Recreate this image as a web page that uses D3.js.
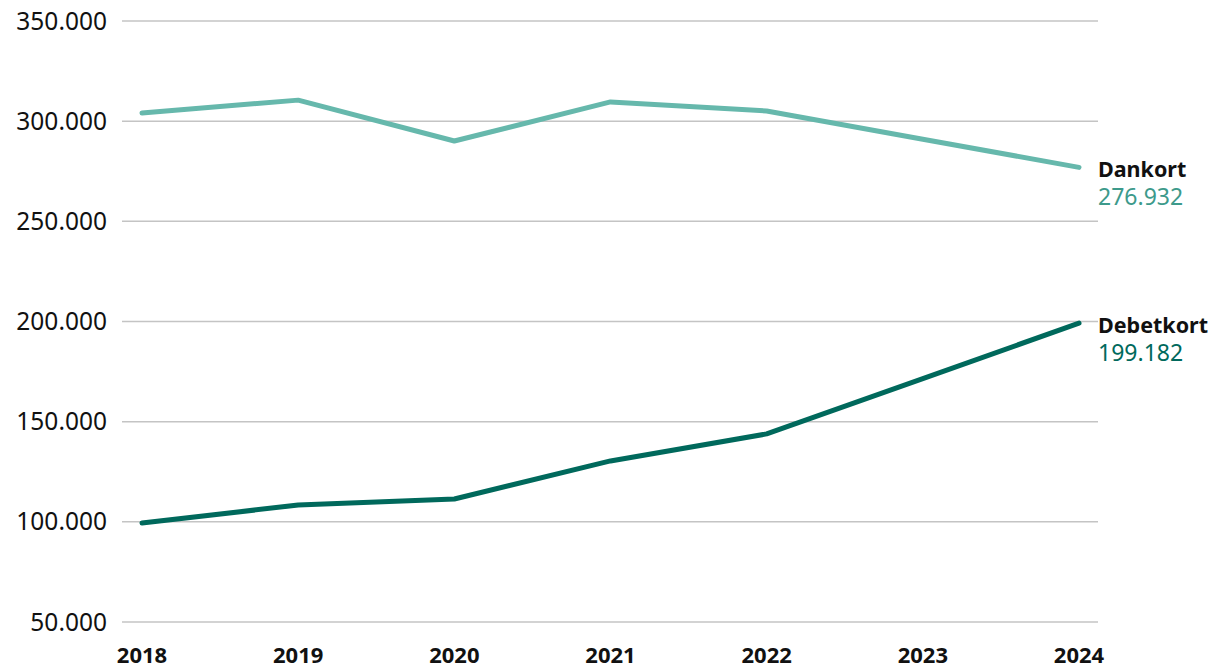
<!DOCTYPE html>
<html>
<head>
<meta charset="utf-8">
<script src="https://cdn.jsdelivr.net/npm/d3@7"></script>
<style>
  body { margin: 0; background: #fff; }
  text { font-family: "Noto Sans", "Open Sans", sans-serif; }
</style>
</head>
<body>
<svg width="1220" height="672"></svg>
<script>
// data
const years = [2018, 2019, 2020, 2021, 2022, 2023, 2024]
const dankort = [304100, 310500, 290100, 309600, 305100, 291000, 276932]
const debetkort = [99400, 108400, 111400, 130400, 143900, 171500, 199182]
const yTicks = [50000, 100000, 150000, 200000, 250000, 300000, 350000]
const seriesNames = ['Dankort', 'Debetkort']
const seriesColors = ['#66b8ac', '#00695c']
const labelColors = ['#3d9a8b', '#00695c']

const svg = d3.select('svg')

const x = d3.scalePoint()
  .domain(years)
  .range([142, 1079])

const y = d3.scaleLinear()
  .domain([50000, 350000])
  .range([622, 21])

const fmt = d => d3.format(',')(d).replace(/,/g, '.')

// gridlines + y labels
const grid = svg.append('g')
grid.selectAll('line')
  .data(yTicks)
  .enter()
  .append('line')
  .attr('x1', 122)
  .attr('x2', 1098)
  .attr('y1', d => y(d))
  .attr('y2', d => y(d))
  .attr('stroke', '#c4c4c4')
  .attr('stroke-width', 1.5)

grid.selectAll('text')
  .data(yTicks)
  .enter()
  .append('text')
  .attr('x', 107)
  .attr('y', d => y(d))
  .attr('dy', '0.35em')
  .attr('text-anchor', 'end')
  .attr('font-size', 24.5)
  .attr('fill', '#111')
  .text(fmt)

// x labels
svg.append('g')
  .selectAll('text')
  .data(years)
  .enter()
  .append('text')
  .attr('x', d => x(d))
  .attr('y', 663)
  .attr('text-anchor', 'middle')
  .attr('font-size', 22)
  .attr('font-weight', 'bold')
  .attr('fill', '#111')
  .text(d => d)

// lines
const line = d3.line()
  .x((d, i) => x(years[i]))
  .y(d => y(d))

const series = [dankort, debetkort]
svg.append('g')
  .selectAll('path')
  .data(series)
  .enter()
  .append('path')
  .attr('d', line)
  .attr('fill', 'none')
  .attr('stroke', (d, i) => seriesColors[i])
  .attr('stroke-width', 5)
  .attr('stroke-linecap', 'round')
  .attr('stroke-linejoin', 'round')

// end labels
const labels = svg.append('g')
  .selectAll('g')
  .data(series)
  .enter()
  .append('g')
  .attr('transform', d => `translate(1098, ${y(d[d.length - 1])})`)

labels.append('text')
  .attr('y', 10)
  .attr('font-size', 21.5)
  .attr('font-weight', 'bold')
  .attr('fill', '#111')
  .text((d, i) => seriesNames[i])

labels.append('text')
  .attr('y', 38)
  .attr('font-size', 23)
  .attr('fill', (d, i) => labelColors[i])
  .text(d => fmt(d[d.length - 1]))
</script>
</body>
</html>
